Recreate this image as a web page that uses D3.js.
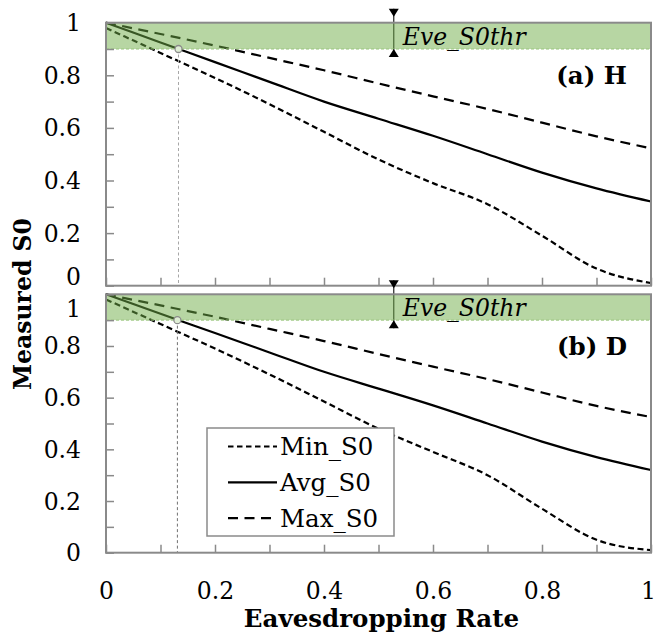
<!DOCTYPE html>
<html>
<head>
<meta charset="utf-8">
<script src="https://cdn.jsdelivr.net/npm/d3@7"></script>
<style>
  html, body { margin: 0; padding: 0; background: #fff; }
  svg { display: block; }
  text { font-family: "DejaVu Serif", serif; fill: #000; }
</style>
</head>
<body>
<svg id="chart" width="655" height="635"></svg>
<script>
// Eavesdropping rate sampled every 0.1
const rates = [0, 0.1, 0.2, 0.3, 0.4, 0.5, 0.6, 0.7, 0.8, 0.9, 1.0];

// (a) H
const minS0_H = [0.98, 0.885, 0.79, 0.69, 0.585, 0.48, 0.39, 0.31, 0.19, 0.065, 0.01];
const avgS0_H = [1.00, 0.925, 0.85, 0.775, 0.70, 0.635, 0.57, 0.50, 0.43, 0.37, 0.32];
const maxS0_H = [1.00, 0.957, 0.913, 0.866, 0.819, 0.769, 0.72, 0.672, 0.62, 0.568, 0.522];

// (b) D
const minS0_D = [0.98, 0.885, 0.79, 0.69, 0.585, 0.48, 0.39, 0.30, 0.17, 0.05, 0.01];
const avgS0_D = [1.00, 0.925, 0.85, 0.775, 0.70, 0.635, 0.57, 0.50, 0.43, 0.37, 0.32];
const maxS0_D = [1.00, 0.957, 0.913, 0.866, 0.819, 0.769, 0.72, 0.672, 0.62, 0.568, 0.525];

// Eve's S0 threshold and the rate where Avg_S0 crosses it
const eveS0thr = 0.9;
const crossRate_H = 0.133;
const crossRate_D = 0.131;
const thrArrowRate = 0.528;

const panelLabels = ["(a) H", "(b) D"];
const seriesNames = ["Min_S0", "Avg_S0", "Max_S0"];
const xTickValues = [0, 0.2, 0.4, 0.6, 0.8, 1];
const xTickLabels = ["0", "0.2", "0.4", "0.6", "0.8", "1"];
const yTickValues = [0, 0.2, 0.4, 0.6, 0.8, 1];
const yTickLabels = ["0", "0.2", "0.4", "0.6", "0.8", "1"];
const minorTicks = [0, 0.1, 0.2, 0.3, 0.4, 0.5, 0.6, 0.7, 0.8, 0.9, 1.0];
const xTitle = "Eavesdropping Rate";
const yTitle = "Measured S0";

// ---- layout & styles ----
const svg = d3.select("#chart");
const left = 106, right = 651;
const frameColor = "#8a8a8a";
const bandColor = "#70ad47";
const dashes = { "Min_S0": "6,3.5", "Avg_S0": null, "Max_S0": "10,6.5" };

const x = d3.scaleLinear().domain([0, 1]).range([left, right]);

const panels = [
  { label: panelLabels[0], top: 22.7, bottom: 285.7, min: minS0_H, avg: avgS0_H, max: maxS0_H,
    cross: crossRate_H, xLabels: false, labelShift: { "0": -9 }, vColor: "#a6a6a6" },
  { label: panelLabels[1], top: 294.3, bottom: 552.7, min: minS0_D, avg: avgS0_D, max: maxS0_D,
    cross: crossRate_D, xLabels: true, labelShift: { "1": 14 }, vColor: "#707070" }
];

panels.forEach(p => {
  const y = d3.scaleLinear().domain([0, 1]).range([p.bottom, p.top]);
  const g = svg.append("g");

  const line = d3.line()
    .x(d => x(d[0]))
    .y(d => y(d[1]))
    .curve(d3.curveMonotoneX);

  const series = [
    { name: "Min_S0", values: p.min },
    { name: "Avg_S0", values: p.avg },
    { name: "Max_S0", values: p.max }
  ];

  // threshold arrow line (sits under the band)
  g.append("line")
    .attr("x1", x(thrArrowRate)).attr("x2", x(thrArrowRate))
    .attr("y1", y(1) - 14).attr("y2", y(eveS0thr) + 8)
    .attr("stroke", "#222").attr("stroke-width", 1.2);

  // series
  g.selectAll("path.series")
    .data(series)
    .join("path")
    .attr("class", "series")
    .attr("d", s => line(rates.map((r, i) => [r, s.values[i]])))
    .attr("fill", "none")
    .attr("stroke", "#000")
    .attr("stroke-width", 2.2)
    .attr("stroke-dasharray", s => dashes[s.name]);

  // threshold band
  g.append("rect")
    .attr("x", x(0)).attr("width", x(1) - x(0))
    .attr("y", y(1)).attr("height", y(eveS0thr) - y(1))
    .attr("fill", bandColor).attr("fill-opacity", 0.5);
  g.append("line")
    .attr("x1", x(0)).attr("x2", x(1))
    .attr("y1", y(eveS0thr)).attr("y2", y(eveS0thr))
    .attr("stroke", "#98c47c").attr("stroke-width", 1)
    .attr("stroke-dasharray", "3,2");

  // arrow heads
  const ax = x(thrArrowRate);
  g.append("path")
    .attr("d", `M${ax - 5},${y(1) - 14}L${ax + 5},${y(1) - 14}L${ax},${y(1) - 6}Z`)
    .attr("fill", "#000");
  g.append("path")
    .attr("d", `M${ax - 5},${y(eveS0thr) + 8}L${ax + 5},${y(eveS0thr) + 8}L${ax},${y(eveS0thr)}Z`)
    .attr("fill", "#000");

  g.append("text")
    .attr("x", ax + 9).attr("y", y(1) + 22)
    .attr("font-style", "italic")
    .attr("font-size", 23.5)
    .text("Eve_S0thr");

  // drop line from the crossing point
  g.append("line")
    .attr("x1", x(p.cross)).attr("x2", x(p.cross))
    .attr("y1", y(eveS0thr)).attr("y2", y(0))
    .attr("stroke", p.vColor).attr("stroke-width", 1)
    .attr("stroke-dasharray", "3,2.5");

  // frame
  g.append("rect")
    .attr("x", x(0)).attr("y", y(1))
    .attr("width", x(1) - x(0)).attr("height", y(0) - y(1))
    .attr("fill", "none").attr("stroke", frameColor).attr("stroke-width", 2);

  // y axis (inward ticks)
  const yAxis = d3.axisLeft(y)
    .tickValues(minorTicks)
    .tickSize(-8)
    .tickPadding(25)
    .tickFormat(d => {
      const k = yTickValues.findIndex(v => Math.abs(v - d) < 1e-9);
      return k >= 0 ? yTickLabels[k] : "";
    });
  const ya = g.append("g").attr("transform", `translate(${x(0)},0)`).call(yAxis);
  ya.select(".domain").remove();
  ya.selectAll(".tick line").attr("stroke", frameColor).attr("stroke-width", 1.5);
  ya.selectAll(".tick text")
    .attr("font-family", "DejaVu Serif")
    .attr("font-size", 23.5)
    .attr("fill", "#000")
    .attr("dy", function () {
      const t = d3.select(this).text();
      return (p.labelShift[t] || 0) + 8;
    });

  // x axis (inward ticks)
  const xAxis = d3.axisBottom(x)
    .tickValues(minorTicks)
    .tickSize(-8)
    .tickPadding(30)
    .tickFormat(d => {
      if (!p.xLabels) return "";
      const k = xTickValues.findIndex(v => Math.abs(v - d) < 1e-9);
      return k >= 0 ? xTickLabels[k] : "";
    });
  const xa = g.append("g").attr("transform", `translate(0,${y(0)})`).call(xAxis);
  xa.select(".domain").remove();
  xa.selectAll(".tick line").attr("stroke", frameColor).attr("stroke-width", 1.5);
  xa.selectAll(".tick text")
    .attr("font-family", "DejaVu Serif")
    .attr("font-size", 23.5)
    .attr("fill", "#000")
    .attr("dx", d => (d === 1 ? -3 : 0));

  // crossing marker
  g.append("circle")
    .attr("cx", x(p.cross)).attr("cy", y(eveS0thr)).attr("r", 3.5)
    .attr("fill", "#dfeed5").attr("stroke", "#8a8a8a").attr("stroke-width", 1.3);

  // panel tag
  g.append("text")
    .attr("x", x(1) - 24).attr("y", y(1) + 61)
    .attr("text-anchor", "end")
    .attr("font-weight", "bold")
    .attr("font-size", 24.5)
    .text(p.label);

  // legend in the lower panel
  if (p.xLabels) {
    const lg = g.append("g");
    lg.append("rect")
      .attr("x", 207).attr("y", 428).attr("width", 187).attr("height", 108)
      .attr("fill", "#fff").attr("stroke", frameColor).attr("stroke-width", 1.5);
    seriesNames.forEach((name, i) => {
      const cy = 446.5 + i * 35.8;
      lg.append("line")
        .attr("x1", 228).attr("x2", 277).attr("y1", cy).attr("y2", cy)
        .attr("stroke", "#000").attr("stroke-width", 2.2)
        .attr("stroke-dasharray", name === "Min_S0" ? "5.5,3.5" : dashes[name]);
      lg.append("text")
        .attr("x", 280).attr("y", cy + 8.5)
        .attr("font-size", 24.5)
        .text(name);
    });
  }
});

// axis titles
svg.append("text")
  .attr("x", (left + right) / 2 + 3).attr("y", 627)
  .attr("text-anchor", "middle")
  .attr("font-weight", "bold")
  .attr("font-size", 24.5)
  .text(xTitle);

svg.append("text")
  .attr("transform", "translate(31,304) rotate(-90)")
  .attr("text-anchor", "middle")
  .attr("font-weight", "bold")
  .attr("font-size", 23.5)
  .text(yTitle);
</script>
</body>
</html>
